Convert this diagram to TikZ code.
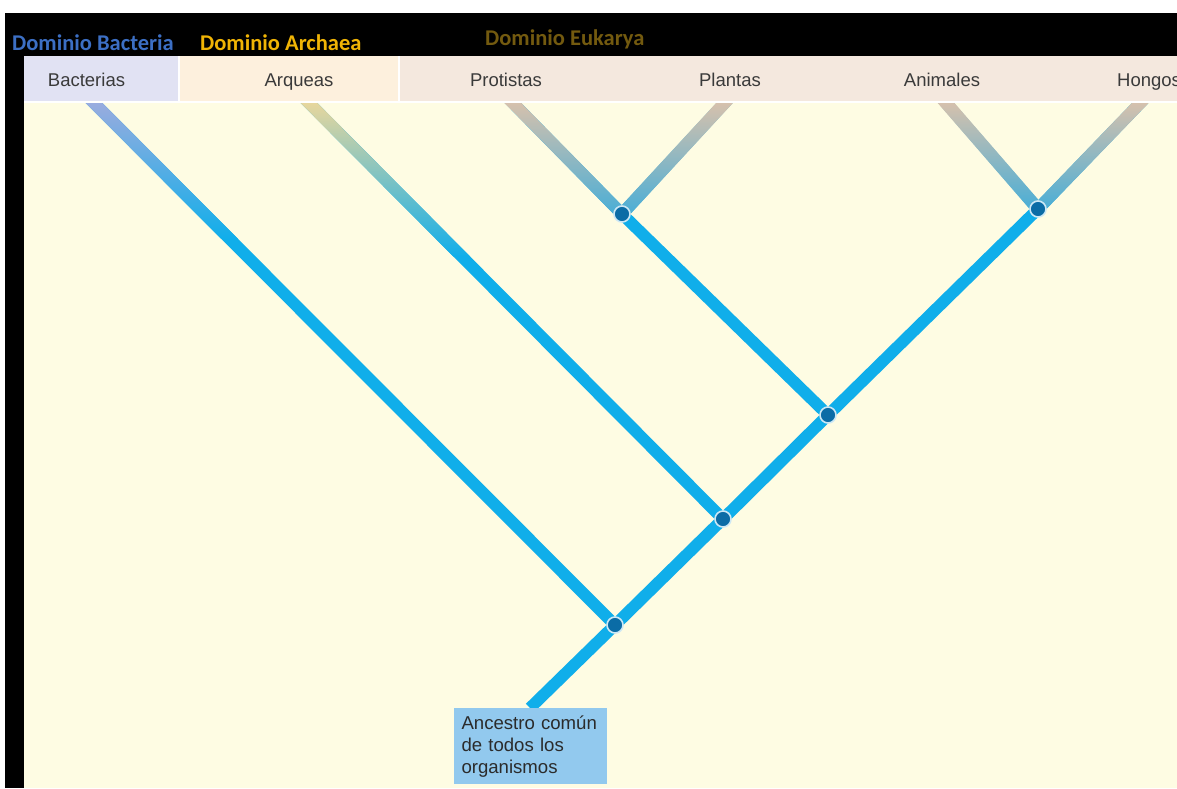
\documentclass[tikz,border=0pt]{standalone}
\usepackage{fontspec}
\setmainfont{Liberation Sans}
\newfontfamily\domfont{Carlito}
\usepackage{xcolor}
\usepackage{tikz}
\usetikzlibrary{calc}

\definecolor{paper}{HTML}{FEFCE3}
\definecolor{branch}{HTML}{10AEEA}
\definecolor{splitblue}{HTML}{0B6CA6}
\definecolor{splitring}{HTML}{CDE8F5}
\definecolor{labelgray}{HTML}{3A3A3A}
\definecolor{bactcell}{HTML}{E1E2F3}
\definecolor{arqcell}{HTML}{FDF0DD}
\definecolor{eukcell}{HTML}{F4E8DE}
\definecolor{bacttop}{HTML}{A0ACDE}
\definecolor{arqtop}{HTML}{F0D89A}
\definecolor{euktop}{HTML}{DEC2AA}
\definecolor{eukmid}{HTML}{4AAED6}
\definecolor{bactname}{HTML}{3C6FC4}
\definecolor{arqname}{HTML}{F0B405}
\definecolor{eukname}{HTML}{735A0F}
\definecolor{rootfill}{HTML}{92C9EE}
\definecolor{boxtext}{HTML}{2B2B2B}

% fading top end of a branch: top, end, fraction, top colour, bottom colour
\newcommand{\fadetop}[5]{%
  \path (#1) -- coordinate[pos=#3] (fadeend) (#2);
  \shade[top color=#4, bottom color=#5]
    ($(#1)+(-8.4,0)$) -- ($(#1)+(8.4,0)$) -- ($(fadeend)+(8.4,0)$) -- ($(fadeend)+(-8.4,0)$) -- cycle;
}

\begin{document}
\begin{tikzpicture}[
    x=1pt, y=-1pt,
    branchline/.style={draw=branch, line width=11.8pt},
    split/.style={circle, fill=splitblue, draw=splitring, line width=1.6pt, minimum size=16pt, inner sep=0pt},
    taxon/.style={anchor=base, inner sep=0pt, text=labelgray, font=\fontsize{18.5}{21}\selectfont},
    domname/.style={anchor=base west, inner sep=0pt, font=\domfont\bfseries\fontsize{22.5}{25}\selectfont},
    rootbox/.style={anchor=north, fill=rootfill, text=boxtext, align=left, text width=137pt, inner xsep=8pt, minimum height=76pt, font=\fontsize{18.6}{22}\selectfont}
]
    \useasboundingbox (0,0) rectangle (1177,788);
    \clip (0,0) rectangle (1177,788);
    \fill[white] (0,0) rectangle (1177,788);
    \fill[black] (5,13) rectangle (1177,788);
    \fill[paper] (24,56) rectangle (1177,788);

    % branch tops, under the header
    \coordinate (tBac) at (87,96);
    \coordinate (tArq) at (302,96);
    \coordinate (tPro) at (506,96);
    \coordinate (tPla) at (731,96);
    \coordinate (tAni) at (940,96);
    \coordinate (tHon) at (1147,96);
    % splits and root
    \coordinate (cAll) at (615,625);
    \coordinate (cArq) at (723,519);
    \coordinate (cEuk) at (828,415);
    \coordinate (cPP) at (622,214);
    \coordinate (cAH) at (1038,209);
    \coordinate (root) at (530,708);

    \draw [branchline] (root) -- (cAll);
    \draw [branchline] (cAll) -- (cArq);
    \draw [branchline] (cArq) -- (cEuk);
    \draw [branchline] (cEuk) -- (cAH);
    \draw [branchline] (cEuk) -- (cPP);
    \draw [branchline] (cAll) -- (tBac);
    \draw [branchline] (cArq) -- (tArq);
    \draw [branchline] (cPP) -- (tPro);
    \draw [branchline] (cPP) -- (tPla);
    \draw [branchline] (cAH) -- (tAni);
    \draw [branchline] (cAH) -- (tHon);

    \fadetop{tBac}{cAll}{0.27}{bacttop}{branch}
    \fadetop{tArq}{cArq}{0.38}{arqtop}{branch}
    \fadetop{tPro}{cPP}{1}{euktop}{eukmid}
    \fadetop{tPla}{cPP}{1}{euktop}{eukmid}
    \fadetop{tAni}{cAH}{1}{euktop}{eukmid}
    \fadetop{tHon}{cAH}{1}{euktop}{eukmid}

    % header
    \fill[white] (24,56) rectangle (1177,103);
    \fill[bactcell] (24,56) rectangle (178,101);
    \fill[arqcell] (180,56) rectangle (398,101);
    \fill[eukcell] (400,56) rectangle (1177,101);

    \node [taxon] (bac) at (86.5,86) {Bacterias};
    \node [taxon] (arq) at (299,86) {Arqueas};
    \node [taxon] (pro) at (506,86) {Protistas};
    \node [taxon] (pla) at (730,86) {Plantas};
    \node [taxon] (ani) at (942,86) {Animales};
    \node [taxon, anchor=base west] (hon) at (1117,86) {Hongos};

    \node [domname, text=bactname] (dBac) at (12,50) {Dominio Bacteria};
    \node [domname, text=arqname] (dArq) at (200,50) {Dominio Archaea};
    \node [domname, text=eukname] (dEuk) at (485,45) {Dominio Eukarya};

    \node [split] (sAll) at (cAll) {};
    \node [split] (sArq) at (cArq) {};
    \node [split] (sEuk) at (cEuk) {};
    \node [split] (sPP) at (cPP) {};
    \node [split] (sAH) at (cAH) {};

    \node [rootbox] (anc) at (root) {Ancestro común\\de todos los\\organismos};
\end{tikzpicture}
\end{document}
